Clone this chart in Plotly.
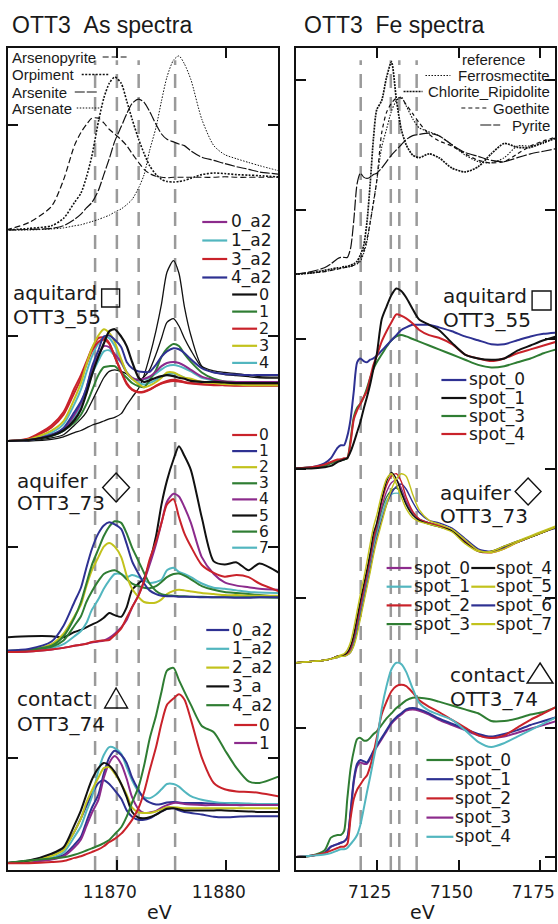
import plotly.graph_objects as go

# ---------------- As K-edge (left panel) ----------------
E_AS = [11859.8, 11861.9, 11864.0, 11865.1, 11866.1, 11866.7, 11867.2, 11867.7, 11868.3, 11868.8,
        11869.3, 11869.8, 11870.4, 11870.9, 11871.4, 11872.0, 11872.5, 11873.0, 11873.6, 11874.1,
        11874.6, 11875.2, 11875.7, 11876.2, 11876.8, 11877.8, 11878.9, 11879.9, 11881.0, 11882.1,
        11883.1, 11885.3]

AS_REF_ARSENOPYRITE = [0, 0.14, 0.45, 0.95, 1.6, 1.85, 2.0, 2.12, 2.12, 2.03, 1.91, 1.82, 1.71, 1.6, 1.45, 1.28,
                       1.15, 1.07, 1.02, 1.0, 0.99, 1.0, 1.0, 1.0, 1.0, 1.0, 1.0, 1.01, 1.0, 1.0, 1.0, 1.0]
AS_REF_ORPIMENT = [0, 0.03, 0.08, 0.22, 0.52, 0.7, 1.0, 1.4, 2.05, 2.5, 2.78, 2.9, 2.78, 2.45, 2.1, 1.72,
                   1.45, 1.22, 1.05, 0.96, 0.92, 0.91, 0.92, 0.94, 0.98, 1.05, 1.08, 1.07, 1.05, 1.04, 1.03, 1.0]
AS_REF_ARSENITE = [0, 0.01, 0.03, 0.08, 0.2, 0.3, 0.42, 0.52, 0.75, 1.05, 1.35, 1.68, 1.96, 2.2, 2.4, 2.48,
                   2.42, 2.25, 2.0, 1.82, 1.72, 1.67, 1.63, 1.6, 1.5, 1.38, 1.32, 1.26, 1.2, 1.15, 1.1, 1.05]
AS_REF_ARSENATE = [0, 0.0, 0.02, 0.04, 0.08, 0.1, 0.13, 0.16, 0.2, 0.24, 0.28, 0.34, 0.4, 0.48, 0.58, 0.8,
                   1.05, 1.5, 1.95, 2.45, 2.9, 3.22, 3.3, 3.15, 2.85, 2.1, 1.6, 1.43, 1.35, 1.28, 1.22, 1.1]

AQT_0A2 = [0, 0.02, 0.12, 0.22, 0.5, 0.72, 1.0, 1.35, 1.62, 1.8, 1.78, 1.65, 1.5, 1.3, 1.2, 1.16,
           1.18, 1.22, 1.32, 1.42, 1.48, 1.5, 1.48, 1.43, 1.35, 1.22, 1.16, 1.13, 1.12, 1.12, 1.12, 1.12]
AQT_1A2 = [0, 0.02, 0.1, 0.2, 0.45, 0.66, 0.92, 1.25, 1.52, 1.7, 1.72, 1.62, 1.48, 1.3, 1.2, 1.16,
           1.17, 1.2, 1.28, 1.36, 1.42, 1.44, 1.42, 1.38, 1.32, 1.2, 1.15, 1.12, 1.12, 1.11, 1.11, 1.11]
AQT_3A2 = [0, 0.05, 0.3, 0.55, 1.0, 1.25, 1.5, 1.75, 1.95, 1.96, 1.86, 1.6, 1.3, 1.08, 0.97, 0.92,
           0.93, 0.97, 1.05, 1.1, 1.14, 1.16, 1.15, 1.12, 1.1, 1.08, 1.07, 1.06, 1.06, 1.06, 1.06, 1.06]
AQT_4A2 = [0, 0.02, 0.12, 0.25, 0.55, 0.75, 1.0, 1.4, 1.72, 1.98, 2.0, 1.92, 1.78, 1.5, 1.38, 1.32,
           1.31, 1.31, 1.45, 1.6, 1.7, 1.76, 1.74, 1.67, 1.55, 1.38, 1.3, 1.27, 1.26, 1.25, 1.25, 1.25]
AQT_0 = [0, 0.02, 0.1, 0.2, 0.4, 0.6, 0.9, 1.25, 1.6, 1.85, 2.08, 2.12, 1.98, 1.8, 1.5, 1.2,
         1.12, 1.15, 1.2, 1.23, 1.25, 1.23, 1.2, 1.18, 1.14, 1.12, 1.12, 1.11, 1.1, 1.1, 1.1, 1.1]
AQT_1 = [0, 0.02, 0.1, 0.2, 0.35, 0.5, 0.7, 0.95, 1.25, 1.4, 1.42, 1.42, 1.3, 1.2, 1.1, 1.04,
         1.02, 1.15, 1.35, 1.6, 1.75, 1.84, 1.8, 1.65, 1.5, 1.3, 1.18, 1.13, 1.12, 1.1, 1.1, 1.1]
AQT_2 = [0, 0.04, 0.26, 0.5, 0.92, 1.18, 1.45, 1.7, 1.88, 1.92, 1.84, 1.6, 1.32, 1.1, 0.98, 0.93,
         0.94, 0.98, 1.04, 1.09, 1.12, 1.14, 1.13, 1.11, 1.09, 1.07, 1.06, 1.06, 1.05, 1.05, 1.05, 1.05]
AQT_3 = [0, 0.03, 0.2, 0.38, 0.8, 1.1, 1.45, 1.75, 2.0, 2.12, 2.05, 1.88, 1.55, 1.3, 1.18, 1.08,
         1.02, 1.05, 1.12, 1.2, 1.3, 1.3, 1.25, 1.2, 1.18, 1.12, 1.1, 1.08, 1.07, 1.06, 1.06, 1.06]
AQT_4 = [0, 0.03, 0.16, 0.32, 0.7, 0.98, 1.3, 1.6, 1.85, 1.98, 1.95, 1.8, 1.52, 1.3, 1.18, 1.1,
         1.07, 1.1, 1.16, 1.22, 1.27, 1.28, 1.25, 1.2, 1.16, 1.12, 1.1, 1.08, 1.07, 1.07, 1.06, 1.06]
AQT_EXTRA_A = [0, 0.0, 0.03, 0.08, 0.16, 0.2, 0.25, 0.3, 0.34, 0.38, 0.42, 0.45, 0.52, 0.68, 0.83, 1.0,
               1.25, 1.6, 2.1, 2.6, 3.2, 3.42, 3.18, 2.55, 2.0, 1.42, 1.33, 1.3, 1.28, 1.25, 1.22, 1.21]
AQT_EXTRA_B = [0, 0.01, 0.06, 0.12, 0.3, 0.42, 0.55, 0.75, 1.0, 1.2, 1.32, 1.35, 1.32, 1.27, 1.18, 1.15,
               1.22, 1.35, 1.65, 1.95, 2.25, 2.32, 2.18, 1.95, 1.72, 1.4, 1.3, 1.26, 1.24, 1.22, 1.2, 1.19]

AQF_0 = [0, 0.01, 0.05, 0.08, 0.12, 0.14, 0.16, 0.19, 0.21, 0.22, 0.23, 0.32, 0.45, 0.65, 0.85, 1.08,
         1.35, 1.75, 2.1, 2.45, 2.8, 2.9, 2.56, 2.25, 2.0, 1.65, 1.5, 1.43, 1.46, 1.42, 1.3, 1.12]
AQF_1 = [0.03, 0.06, 0.2, 0.5, 0.95, 1.22, 1.6, 1.95, 2.25, 2.4, 2.46, 2.42, 2.33, 2.05, 1.72, 1.48,
         1.3, 1.17, 1.1, 1.07, 1.06, 1.06, 1.05, 1.05, 1.05, 1.04, 1.04, 1.04, 1.03, 1.03, 1.04, 1.04]
AQF_2 = [0.02, 0.04, 0.15, 0.35, 0.68, 0.9, 1.25, 1.55, 1.8, 2.0, 2.07, 2.0, 1.8, 1.45, 1.2, 1.04,
         0.95, 0.93, 0.94, 1.0, 1.1, 1.16, 1.18, 1.17, 1.15, 1.12, 1.1, 1.08, 1.08, 1.07, 1.07, 1.07]
AQF_3 = [0.02, 0.04, 0.12, 0.3, 0.65, 0.95, 1.3, 1.65, 1.95, 2.2, 2.38, 2.48, 2.45, 2.25, 1.98, 1.72,
         1.5, 1.3, 1.16, 1.1, 1.08, 1.07, 1.06, 1.06, 1.05, 1.05, 1.04, 1.04, 1.04, 1.04, 1.04, 1.03]
AQF_4 = [0, 0.01, 0.05, 0.08, 0.12, 0.14, 0.16, 0.18, 0.2, 0.22, 0.27, 0.35, 0.47, 0.61, 0.85, 1.08,
         1.35, 1.65, 2.05, 2.45, 2.85, 3.0, 2.95, 2.75, 2.45, 1.8, 1.48, 1.32, 1.26, 1.23, 1.2, 1.18]
AQF_5 = [0.28, 0.3, 0.3, 0.28, 0.38, 0.42, 0.47, 0.52, 0.58, 0.65, 0.74, 0.7, 0.67, 0.85, 1.18, 1.3,
         1.4, 1.7, 2.2, 2.8, 3.25, 3.65, 3.9, 3.72, 3.45, 2.55, 1.72, 1.66, 1.7, 1.55, 1.68, 1.45]
AQF_6 = [0.02, 0.04, 0.1, 0.22, 0.5, 0.68, 0.95, 1.15, 1.35, 1.48, 1.53, 1.55, 1.48, 1.38, 1.3, 1.25,
         1.22, 1.21, 1.25, 1.33, 1.42, 1.48, 1.49, 1.45, 1.38, 1.25, 1.18, 1.14, 1.12, 1.1, 1.08, 1.04]
AQF_7 = [0.02, 0.03, 0.08, 0.15, 0.3, 0.4, 0.55, 0.8, 1.0, 1.2, 1.36, 1.48, 1.48, 1.42, 1.46, 1.42,
         1.36, 1.31, 1.33, 1.37, 1.55, 1.6, 1.52, 1.48, 1.42, 1.3, 1.22, 1.2, 1.17, 1.14, 1.13, 1.12]

CON_0A2 = [0, 0.03, 0.08, 0.15, 0.35, 0.5, 0.78, 1.05, 1.3, 1.7, 2.0, 2.13, 2.05, 1.9, 1.62, 1.38,
           1.22, 1.15, 1.11, 1.12, 1.15, 1.16, 1.15, 1.14, 1.14, 1.14, 1.12, 1.11, 1.1, 1.1, 1.1, 1.1]
CON_1A2 = [0, 0.03, 0.1, 0.2, 0.5, 0.7, 0.98, 1.25, 1.75, 2.05, 2.2, 2.18, 2.07, 1.82, 1.57, 1.35,
           1.25, 1.23, 1.3, 1.4, 1.5, 1.5, 1.45, 1.36, 1.27, 1.2, 1.16, 1.14, 1.14, 1.13, 1.12, 1.12]
CON_2A2 = [0, 0.04, 0.14, 0.25, 0.6, 0.85, 1.15, 1.38, 1.62, 1.8, 1.82, 1.7, 1.5, 1.3, 1.05, 0.96,
           0.95, 0.95, 0.98, 1.02, 1.06, 1.06, 1.05, 1.04, 1.04, 1.04, 1.04, 1.04, 1.04, 1.04, 1.04, 1.04]
CON_3A = [0, 0.05, 0.18, 0.3, 0.72, 1.0, 1.3, 1.58, 1.8, 1.9, 1.85, 1.73, 1.5, 1.25, 0.97, 0.86,
          0.85, 0.87, 0.92, 0.98, 1.03, 1.04, 1.02, 1.0, 1.0, 1.0, 1.0, 1.0, 0.99, 0.98, 0.97, 0.97]
CON_4A2 = [0, 0.05, 0.09, 0.11, 0.16, 0.2, 0.24, 0.28, 0.33, 0.38, 0.44, 0.55, 0.68, 0.88, 1.15, 1.45,
           1.85, 2.35, 2.8, 3.25, 3.65, 3.7, 3.47, 3.25, 3.0, 2.6, 2.48, 2.15, 1.8, 1.55, 1.52, 1.68]
CON_0 = [0, 0.0, 0.02, 0.04, 0.1, 0.13, 0.17, 0.21, 0.26, 0.32, 0.4, 0.46, 0.56, 0.68, 0.82, 1.05,
         1.35, 1.75, 2.2, 2.65, 3.0, 3.12, 3.2, 3.1, 2.72, 2.0, 1.52, 1.4, 1.36, 1.35, 1.33, 1.25]
CON_1 = [0, 0.02, 0.07, 0.13, 0.3, 0.45, 0.7, 0.95, 1.2, 1.62, 1.9, 2.03, 1.88, 1.6, 1.25, 1.02,
         0.95, 0.96, 0.99, 1.05, 1.1, 1.14, 1.14, 1.12, 1.11, 1.1, 1.1, 1.1, 1.1, 1.1, 1.1, 1.1]
CON_EXTRA = [0, 0.04, 0.16, 0.28, 0.6, 0.85, 1.08, 1.3, 1.52, 1.57, 1.5, 1.38, 1.22, 1.0, 0.88, 0.82,
             0.82, 0.85, 0.92, 0.98, 1.03, 1.04, 1.0, 0.97, 0.95, 0.92, 0.88, 0.87, 0.88, 0.89, 0.89, 0.89]

AS_EDGE_LINES = [11868.0, 11870.0, 11872.0, 11875.35]
AS_TICKS = [11870, 11880]

# ---------------- Fe K-edge (right panel) ----------------
E_FE = [7100, 7105, 7109, 7111, 7113, 7114, 7115, 7116, 7117, 7118, 7119, 7120, 7121, 7122, 7123, 7124,
        7125, 7126.5, 7128, 7129.5, 7131, 7132.5, 7134, 7136, 7138, 7141, 7144, 7148, 7152, 7156, 7160,
        7164, 7168, 7172, 7176, 7180]

FE_REF_FERROSMECTITE = [0, 0.01, 0.02, 0.03, 0.04, 0.045, 0.05, 0.055, 0.06, 0.07, 0.08, 0.1, 0.16, 0.25, 0.4, 0.56,
                        0.72, 0.98, 1.12, 1.26, 1.34, 1.37, 1.3, 1.2, 1.13, 1.1, 1.07, 1.0, 0.92, 0.87, 0.86,
                        0.9, 0.99, 0.99, 1.01, 1.06]
FE_REF_CHLORITE = [0, 0.01, 0.03, 0.04, 0.05, 0.05, 0.06, 0.06, 0.07, 0.08, 0.1, 0.15, 0.22, 0.4, 0.7, 1.05,
                   1.27, 1.34, 1.52, 1.64, 1.35, 1.12, 1.0, 0.92, 0.9, 0.93, 0.9, 0.82, 0.79, 0.83, 0.93,
                   1.01, 0.98, 0.98, 1.02, 1.05]
FE_REF_GOETHITE = [0, 0.01, 0.02, 0.03, 0.04, 0.045, 0.05, 0.055, 0.06, 0.07, 0.08, 0.12, 0.18, 0.27, 0.4, 0.55,
                   0.72, 1.09, 1.25, 1.32, 1.36, 1.36, 1.31, 1.24, 1.17, 1.08, 1.03, 0.99, 0.93, 0.88, 0.86,
                   0.87, 0.93, 0.99, 1.03, 1.06]
FE_REF_PYRITE = [0, 0.02, 0.05, 0.08, 0.12, 0.13, 0.13, 0.13, 0.2, 0.42, 0.7, 0.78, 0.75, 0.74, 0.75, 0.77,
                 0.78, 0.82, 0.87, 0.92, 0.96, 1.0, 1.04, 1.07, 1.08, 1.09, 1.07, 1.0, 0.94, 0.91, 0.88,
                 0.87, 0.9, 0.93, 0.95, 0.97]

FE_AQT_SPOT0 = [0, 0.01, 0.04, 0.08, 0.16, 0.18, 0.18, 0.25, 0.38, 0.6, 0.82, 0.85, 0.83, 0.82, 0.84, 0.85,
                0.87, 0.91, 0.95, 0.99, 1.03, 1.07, 1.09, 1.11, 1.11, 1.11, 1.09, 1.06, 1.02, 0.99, 0.96,
                0.96, 0.99, 1.02, 1.04, 1.05]
FE_AQT_SPOT1 = [0, 0.0, 0.01, 0.02, 0.05, 0.06, 0.07, 0.08, 0.13, 0.2, 0.28, 0.36, 0.46, 0.55, 0.65, 0.77,
                0.88, 1.15, 1.25, 1.34, 1.39, 1.37, 1.32, 1.23, 1.15, 1.11, 1.07, 0.97, 0.88, 0.85, 0.84,
                0.85, 0.91, 0.95, 0.99, 1.02]
FE_AQT_SPOT3 = [0, 0.01, 0.02, 0.04, 0.06, 0.07, 0.07, 0.08, 0.22, 0.4, 0.47, 0.5, 0.55, 0.62, 0.7, 0.77,
                0.82, 0.88, 0.94, 0.99, 1.02, 1.03, 1.02, 1.0, 0.98, 0.95, 0.92, 0.88, 0.84, 0.8, 0.78,
                0.79, 0.82, 0.85, 0.89, 0.92]
FE_AQT_SPOT4 = [0, 0.01, 0.03, 0.05, 0.07, 0.07, 0.08, 0.08, 0.2, 0.38, 0.45, 0.5, 0.55, 0.6, 0.7, 0.8,
                0.87, 0.98, 1.06, 1.13, 1.19, 1.18, 1.16, 1.12, 1.07, 1.03, 1.01, 0.96, 0.88, 0.85, 0.83,
                0.85, 0.89, 0.92, 0.95, 0.98]

FE_AQF_SPOT0 = [0, 0.01, 0.02, 0.03, 0.05, 0.05, 0.06, 0.07, 0.11, 0.19, 0.3, 0.43, 0.55, 0.67, 0.8, 0.94,
                1.05, 1.2, 1.32, 1.39, 1.41, 1.35, 1.25, 1.16, 1.11, 1.08, 1.06, 1.02, 0.94, 0.87, 0.86,
                0.89, 0.93, 0.97, 1.01, 1.05]
FE_AQF_SPOT1 = [0, 0.01, 0.02, 0.03, 0.05, 0.05, 0.06, 0.07, 0.1, 0.17, 0.28, 0.4, 0.52, 0.64, 0.77, 0.9,
                1.0, 1.14, 1.25, 1.3, 1.31, 1.3, 1.24, 1.16, 1.11, 1.08, 1.06, 1.02, 0.94, 0.87, 0.86,
                0.89, 0.93, 0.97, 1.01, 1.05]
FE_AQF_SPOT2 = [0, 0.01, 0.02, 0.03, 0.05, 0.05, 0.06, 0.07, 0.11, 0.2, 0.32, 0.45, 0.57, 0.69, 0.82, 0.96,
                1.07, 1.24, 1.37, 1.44, 1.46, 1.4, 1.28, 1.17, 1.11, 1.08, 1.06, 1.02, 0.93, 0.86, 0.85,
                0.88, 0.93, 0.97, 1.01, 1.05]
FE_AQF_SPOT3 = [0, 0.01, 0.02, 0.03, 0.05, 0.05, 0.06, 0.07, 0.11, 0.19, 0.3, 0.43, 0.55, 0.67, 0.8, 0.93,
                1.03, 1.18, 1.28, 1.33, 1.35, 1.31, 1.23, 1.15, 1.1, 1.08, 1.06, 1.02, 0.94, 0.87, 0.86,
                0.89, 0.93, 0.97, 1.01, 1.05]
FE_AQF_SPOT4 = [0, 0.01, 0.02, 0.03, 0.05, 0.05, 0.06, 0.08, 0.13, 0.22, 0.35, 0.48, 0.6, 0.72, 0.85, 1.0,
                1.08, 1.26, 1.4, 1.47, 1.42, 1.32, 1.22, 1.14, 1.1, 1.07, 1.05, 1.02, 0.93, 0.86, 0.86,
                0.9, 0.94, 0.97, 1.01, 1.05]
FE_AQF_SPOT5 = [0, 0.01, 0.02, 0.03, 0.05, 0.06, 0.07, 0.1, 0.16, 0.27, 0.4, 0.53, 0.65, 0.78, 0.92, 1.05,
                1.14, 1.3, 1.42, 1.46, 1.38, 1.28, 1.19, 1.12, 1.09, 1.07, 1.05, 1.01, 0.92, 0.86, 0.86,
                0.9, 0.94, 0.98, 1.02, 1.06]
FE_AQF_SPOT6 = [0, 0.01, 0.02, 0.03, 0.04, 0.05, 0.05, 0.06, 0.08, 0.14, 0.24, 0.36, 0.48, 0.6, 0.72, 0.85,
                0.96, 1.1, 1.22, 1.31, 1.36, 1.38, 1.34, 1.24, 1.16, 1.1, 1.08, 1.04, 0.96, 0.88, 0.86,
                0.89, 0.93, 0.97, 1.01, 1.04]
FE_AQF_SPOT7 = [0, 0.01, 0.02, 0.03, 0.04, 0.05, 0.05, 0.06, 0.08, 0.13, 0.22, 0.34, 0.46, 0.58, 0.7, 0.83,
                0.94, 1.08, 1.22, 1.34, 1.42, 1.46, 1.44, 1.3, 1.18, 1.1, 1.07, 1.03, 0.95, 0.87, 0.85,
                0.88, 0.93, 0.97, 1.01, 1.05]

FE_CON_SPOT0 = [0, 0.01, 0.05, 0.15, 0.17, 0.17, 0.2, 0.45, 0.68, 0.82, 0.91, 0.92, 0.9, 0.9, 0.92, 0.95,
                0.97, 1.02, 1.07, 1.11, 1.15, 1.18, 1.21, 1.23, 1.23, 1.22, 1.2, 1.17, 1.14, 1.11, 1.05,
                1.05, 1.07, 1.1, 1.12, 1.16]
FE_CON_SPOT1 = [0, 0.01, 0.03, 0.08, 0.1, 0.11, 0.12, 0.15, 0.35, 0.6, 0.72, 0.75, 0.74, 0.73, 0.77, 0.82,
                0.86, 0.92, 0.98, 1.04, 1.08, 1.11, 1.14, 1.15, 1.14, 1.11, 1.07, 1.03, 0.99, 0.95, 0.93,
                0.95, 0.98, 1.02, 1.05, 1.08]
FE_CON_SPOT2 = [0, 0.01, 0.03, 0.05, 0.07, 0.08, 0.08, 0.1, 0.3, 0.45, 0.52, 0.56, 0.6, 0.63, 0.7, 0.8,
                0.92, 1.1, 1.2, 1.28, 1.32, 1.33, 1.32, 1.27, 1.21, 1.16, 1.12, 1.06, 1.0, 0.94, 0.92,
                0.94, 1.0, 1.06, 1.11, 1.16]
FE_CON_SPOT3 = [0, 0.01, 0.03, 0.08, 0.1, 0.11, 0.12, 0.15, 0.34, 0.58, 0.7, 0.73, 0.72, 0.72, 0.76, 0.81,
                0.85, 0.91, 0.97, 1.03, 1.07, 1.1, 1.13, 1.14, 1.13, 1.1, 1.06, 1.02, 0.98, 0.94, 0.92,
                0.93, 0.96, 0.99, 1.02, 1.05]
FE_CON_SPOT4 = [0, 0.01, 0.02, 0.03, 0.05, 0.06, 0.06, 0.07, 0.1, 0.13, 0.17, 0.25, 0.37, 0.5, 0.62, 0.75,
                0.88, 1.14, 1.32, 1.45, 1.5, 1.49, 1.43, 1.3, 1.19, 1.13, 1.1, 1.06, 0.98, 0.89, 0.85,
                0.88, 0.93, 0.98, 1.03, 1.08]

FE_EDGE_LINES = [7120.1, 7129.3, 7131.9, 7137.2]
FE_TICKS = [7125, 7150, 7175]

# labels
AS_REF_NAMES = ["Arsenopyrite", "Orpiment", "Arsenite", "Arsenate"]
FE_REF_NAMES = ["Ferrosmectite", "Chlorite_Ripidolite", "Goethite", "Pyrite"]
AS_AQT_LABELS_A = ["0_a2", "1_a2", "3_a2", "4_a2"]
AS_AQT_LABELS_B = ["0", "1", "2", "3", "4"]
AS_AQF_LABELS = ["0", "1", "2", "3", "4", "5", "6", "7"]
AS_CON_LABELS_A = ["0_a2", "1_a2", "2_a2", "3_a", "4_a2"]
AS_CON_LABELS_B = ["0", "1"]
FE_AQT_LABELS = ["spot_0", "spot_1", "spot_3", "spot_4"]
FE_AQF_LABELS = ["spot_0", "spot_1", "spot_2", "spot_3", "spot_4", "spot_5", "spot_6", "spot_7"]
FE_CON_LABELS = ["spot_0", "spot_1", "spot_2", "spot_3", "spot_4"]

# ---------------- styling / layout ----------------
C = dict(purple="#8c2b8c", cyan="#52b6bf", red="#c9222a", navy="#2e3192",
         green="#2f7d33", yellow="#c2c21c", black="#111111")

AS_OFF = dict(contact=0.0, aquifer=4.0, aquitard=8.0, reference=12.0)
FE_OFF = dict(contact=0.0, aquifer=1.5, aquitard=3.0, reference=4.5)

W_PX, H_PX = 558, 924
ML, MR, MT, MB = 8, 1, 48, 54
PW, PH = W_PX - ML - MR, H_PX - MT - MB


def fx(px):
    return (px - ML) / PW


def fy(py):
    return (H_PX - MB - py) / PH


fig = go.Figure()


def add(axis, x, vals, off, color, width=2.0, dash="solid", name=""):
    xa, ya = ("x", "y") if axis == "as" else ("x2", "y2")
    fig.add_trace(go.Scatter(
        x=x, y=[v + off for v in vals], mode="lines", name=name, showlegend=False,
        hoverinfo="skip", xaxis=xa, yaxis=ya,
        line=dict(color=color, width=width, dash=dash, shape="spline", smoothing=0.7)))


AS_REF_STYLE = [("6px,3px", 1.2), ("2px,1.5px", 1.6), ("10px,2px", 1.2), ("1.5px,1.5px", 1.0)]
FE_REF_STYLE = [("1.5px,1.5px", 1.1), ("2px,1px", 1.7), ("4px,3px", 1.2), ("11px,2px", 1.2)]

for vals, (d, w), nm in zip([AS_REF_ARSENOPYRITE, AS_REF_ORPIMENT, AS_REF_ARSENITE, AS_REF_ARSENATE],
                             AS_REF_STYLE, AS_REF_NAMES):
    add("as", E_AS, vals, AS_OFF["reference"], "#111111", w, d, nm)

o = AS_OFF["aquitard"]
add("as", E_AS, AQT_EXTRA_A, o, C["black"], 1.3)
add("as", E_AS, AQT_EXTRA_B, o, C["black"], 1.3)
for vals, col, nm in [(AQT_4, C["cyan"], "4"), (AQT_1A2, C["cyan"], "1_a2"), (AQT_2, C["red"], "2"),
                      (AQT_1, C["green"], "1"), (AQT_0A2, C["purple"], "0_a2"), (AQT_3A2, C["red"], "3_a2"),
                      (AQT_3, C["yellow"], "3"), (AQT_4A2, C["navy"], "4_a2")]:
    add("as", E_AS, vals, o, col, 2.0, name=nm)
add("as", E_AS, AQT_0, o, C["black"], 2.2, name="0")

o = AS_OFF["aquifer"]
for vals, col, nm, w in [(AQF_5, C["black"], "5", 2.0), (AQF_7, C["cyan"], "7", 2.0), (AQF_6, C["green"], "6", 2.0),
                         (AQF_2, C["yellow"], "2", 2.0), (AQF_3, C["green"], "3", 2.0), (AQF_1, C["navy"], "1", 2.0),
                         (AQF_4, C["purple"], "4", 2.0), (AQF_0, C["red"], "0", 2.0)]:
    add("as", E_AS, vals, o, col, w, name=nm)

o = AS_OFF["contact"]
for vals, col, nm in [(CON_EXTRA, C["navy"], ""), (CON_1A2, C["cyan"], "1_a2"), (CON_0A2, C["navy"], "0_a2"),
                      (CON_1, C["purple"], "1"), (CON_2A2, C["yellow"], "2_a2"), (CON_3A, C["black"], "3_a"),
                      (CON_4A2, C["green"], "4_a2"), (CON_0, C["red"], "0")]:
    add("as", E_AS, vals, o, col, 2.0, name=nm)

for vals, (d, w), nm in zip([FE_REF_FERROSMECTITE, FE_REF_CHLORITE, FE_REF_GOETHITE, FE_REF_PYRITE],
                             FE_REF_STYLE, FE_REF_NAMES):
    add("fe", E_FE, vals, FE_OFF["reference"], "#111111", w, d, nm)

o = FE_OFF["aquitard"]
for vals, col, nm in [(FE_AQT_SPOT3, C["green"], "spot_3"), (FE_AQT_SPOT0, C["navy"], "spot_0"),
                      (FE_AQT_SPOT4, C["red"], "spot_4"), (FE_AQT_SPOT1, C["black"], "spot_1")]:
    add("fe", E_FE, vals, o, col, 2.0, name=nm)

o = FE_OFF["aquifer"]
for vals, col, nm in [(FE_AQF_SPOT1, C["cyan"], "spot_1"), (FE_AQF_SPOT3, C["green"], "spot_3"),
                      (FE_AQF_SPOT0, C["purple"], "spot_0"), (FE_AQF_SPOT6, C["navy"], "spot_6"),
                      (FE_AQF_SPOT2, C["red"], "spot_2"), (FE_AQF_SPOT4, C["black"], "spot_4"),
                      (FE_AQF_SPOT7, C["yellow"], "spot_7"), (FE_AQF_SPOT5, C["yellow"], "spot_5")]:
    add("fe", E_FE, vals, o, col, 1.4, name=nm)

o = FE_OFF["contact"]
for vals, col, nm in [(FE_CON_SPOT3, C["purple"], "spot_3"), (FE_CON_SPOT1, C["navy"], "spot_1"),
                      (FE_CON_SPOT0, C["green"], "spot_0"), (FE_CON_SPOT2, C["red"], "spot_2"),
                      (FE_CON_SPOT4, C["cyan"], "spot_4")]:
    add("fe", E_FE, vals, o, col, 2.0, name=nm)

shapes = []
annotations = []

# energy marker lines
for e in AS_EDGE_LINES:
    shapes.append(dict(type="line", xref="x", yref="y domain", x0=e, x1=e, y0=0, y1=0.985,
                       line=dict(color="#9a9a9a", width=2.5, dash="14px,9px"), layer="below"))
for e in FE_EDGE_LINES:
    shapes.append(dict(type="line", xref="x2", yref="y2 domain", x0=e, x1=e, y0=0, y1=0.985,
                       line=dict(color="#9a9a9a", width=2.5, dash="14px,9px"), layer="below"))


def text(px, py, s, size=17, anchor="left", family="DejaVu Sans"):
    annotations.append(dict(xref="paper", yref="paper", x=fx(px), y=fy(py), text=s, showarrow=False,
                            xanchor=anchor, yanchor="middle", borderpad=0,
                            font=dict(size=size, family=family, color="#1a1a1a")))


def sample(x0, x1, py, color, width=2.0, dash="solid"):
    shapes.append(dict(type="line", xref="paper", yref="paper", x0=fx(x0), x1=fx(x1), y0=fy(py), y1=fy(py),
                       line=dict(color=color, width=width, dash=dash)))


def block(labels, colors, sx0, sx1, tx, y0, step, size=17):
    for i, (lab, col) in enumerate(zip(labels, colors)):
        yy = y0 + i * step
        sample(sx0, sx1, yy, col, 2.2)
        text(tx, yy, lab, size)


# titles
text(11, 25, "OTT3\u00a0\u00a0As spectra", 23, family="Liberation Sans, Arial")
text(304, 25, "OTT3\u00a0\u00a0Fe spectra", 23, family="Liberation Sans, Arial")

# As reference legend (text then sample)
for nm, (d, w), yy, (s0, s1) in zip(AS_REF_NAMES, AS_REF_STYLE, [57, 74.5, 92, 108],
                                    [(103, 127), (82, 110), (75, 98), (77, 100)]):
    text(11, yy, nm, 15, family="Liberation Sans, Arial")
    sample(s0, s1, yy, "#111111", max(w, 1.2), d)

# Fe reference legend (sample then right-aligned text)
text(463, 60, "reference", 15, family="Liberation Sans, Arial")
for nm, (d, w), yy, (s0, s1) in zip(FE_REF_NAMES, FE_REF_STYLE, [75.5, 91.5, 108, 125],
                                    [(427, 452), (405, 424), (463, 490), (482, 502)]):
    text(553, yy, nm, 15, anchor="right", family="Liberation Sans, Arial")
    sample(s0, s1, yy, "#111111", max(w, 1.2), d)

# As sample legends
block(AS_AQT_LABELS_A, [C["purple"], C["cyan"], C["red"], C["navy"]], 203, 228, 231, 222, 18.5)
block(AS_AQT_LABELS_B, [C["black"], C["green"], C["red"], C["yellow"], C["cyan"]], 233, 258, 259, 294.5, 17.1, 16)
block(AS_AQF_LABELS, [C["red"], C["navy"], C["yellow"], C["green"], C["purple"], C["black"], C["green"], C["cyan"]],
      233, 258, 259, 435, 16.1, 15.5)
block(AS_CON_LABELS_A, [C["navy"], C["cyan"], C["yellow"], C["black"], C["green"]], 207, 230, 232, 630, 18.8)
block(AS_CON_LABELS_B, [C["red"], C["purple"]], 235, 258, 259, 725, 18)

# Fe sample legends
block(FE_AQT_LABELS, [C["navy"], C["black"], C["green"], C["red"]], 443, 468, 470, 380, 18)
block(FE_AQF_LABELS[:4], [C["purple"], C["cyan"], C["red"], C["green"]], 388, 413, 414, 568, 18.7)
block(FE_AQF_LABELS[4:], [C["black"], C["yellow"], C["navy"], C["yellow"]], 473, 497, 497, 568, 18.7)
block(FE_CON_LABELS, [C["green"], C["navy"], C["red"], C["purple"], C["cyan"]], 428, 455, 456, 760, 19.2)

# sub-panel labels
for px_, py_, s in [(12, 293, "aquitard"), (12, 317, "OTT3_55"), (16, 481, "aquifer"), (16, 503, "OTT3_73"),
                    (16, 699, "contact"), (16, 724, "OTT3_74"), (444, 296, "aquitard"), (444, 320, "OTT3_55"),
                    (441, 493, "aquifer"), (441, 516, "OTT3_73"), (451, 675, "contact"), (451, 699, "OTT3_74")]:
    text(px_, py_, s, 20)


def rect(x0, y0, x1, y1):
    shapes.append(dict(type="rect", xref="paper", yref="paper", x0=fx(x0), x1=fx(x1), y0=fy(y0), y1=fy(y1),
                       line=dict(color="#111111", width=1.4)))


def poly(pts):
    p = "M " + " L ".join(f"{fx(a):.5f},{fy(b):.5f}" for a, b in pts) + " Z"
    shapes.append(dict(type="path", xref="paper", yref="paper", path=p, line=dict(color="#111111", width=1.4)))


rect(102, 289, 120, 307)
poly([(116.5, 473), (130, 487.5), (116.5, 502), (103, 487.5)])
poly([(116.5, 688), (128, 708), (105, 708)])
rect(534, 291, 553, 310)
poly([(530, 478), (543, 491.5), (530, 505), (517, 491.5)])
poly([(542, 663), (555, 683), (529, 683)])

# axis titles
text(160, 912, "eV", 19, anchor="center")
text(424, 912, "eV", 19, anchor="center")

axis_common = dict(showgrid=False, zeroline=False, showline=True, linecolor="#111111", linewidth=2,
                   mirror="ticks", ticks="inside", ticklen=10, tickwidth=1.5, tickcolor="#111111")

fig.update_layout(
    width=W_PX, height=H_PX, margin=dict(l=ML, r=MR, t=MT, b=MB, pad=0),
    paper_bgcolor="white", plot_bgcolor="white", showlegend=False,
    font=dict(family="DejaVu Sans", color="#1a1a1a"),
    xaxis=dict(domain=[0, fx(279)], range=[11860, 11884.8], tickvals=AS_TICKS, tickformat="d", anchor="y",
               tickfont=dict(size=17, family="DejaVu Sans", color="#1a1a1a"), ticklabelshift=-7,
               ticklabelstandoff=6, **axis_common),
    yaxis=dict(domain=[0, 1], range=[-0.13, 15.45], tickvals=[2, 6, 10, 14], showticklabels=False,
               anchor="x", **axis_common),
    xaxis2=dict(domain=[fx(297), 1], range=[7100.3, 7179.5], tickvals=FE_TICKS, tickformat="d", anchor="y2",
                tickfont=dict(size=17, family="DejaVu Sans", color="#1a1a1a"), ticklabelshift=-7,
                ticklabelstandoff=6, **axis_common),
    yaxis2=dict(domain=[0, 1], range=[-0.1, 6.247], tickvals=[0, 1, 2, 3, 4, 5, 6], showticklabels=False,
                anchor="x2", **axis_common),
    shapes=shapes, annotations=annotations,
)

fig.write_html("out.html", config={"displayModeBar": False},
               post_script="document.body.style.margin='0';document.body.style.overflow='hidden';")
